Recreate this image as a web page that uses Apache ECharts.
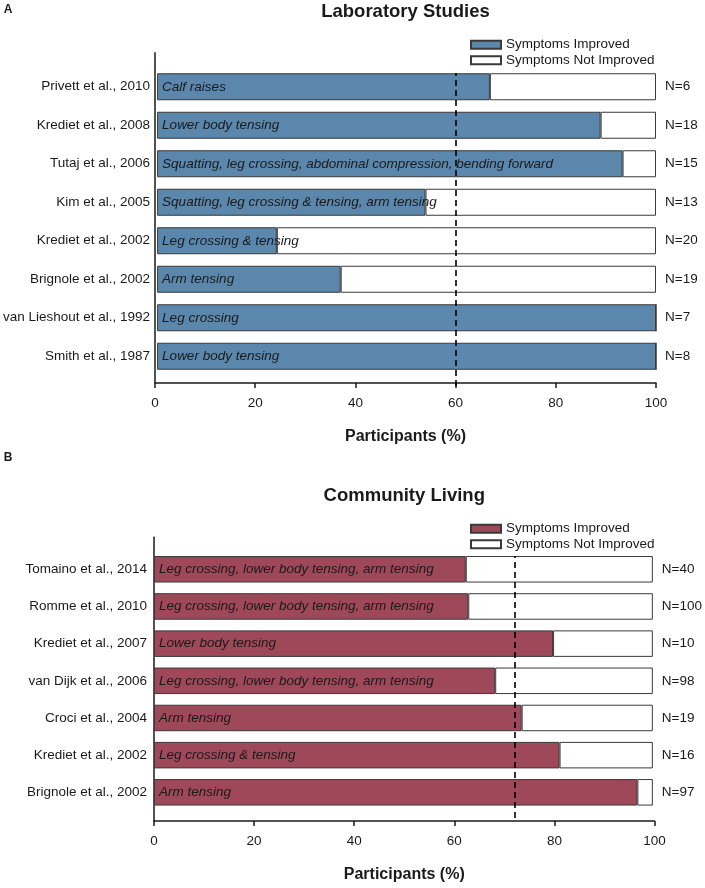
<!DOCTYPE html>
<html>
<head>
<meta charset="utf-8">
<script src="https://cdn.jsdelivr.net/npm/echarts@6/dist/echarts.min.js"></script>
<style>
  html, body { margin: 0; padding: 0; background: #ffffff; }
  #a { position: absolute; left: 0; top: 0; width: 705px; height: 450px; }
  #b { position: absolute; left: 0; top: 450px; width: 705px; height: 438px; }
</style>
</head>
<body>
<div id="a"></div>
<div id="b"></div>
<script>
// ---------- Data ----------
const labStudies = ['Privett et al., 2010', 'Krediet et al., 2008', 'Tutaj et al., 2006', 'Kim et al., 2005',
  'Krediet et al., 2002', 'Brignole et al., 2002', 'van Lieshout et al., 1992', 'Smith et al., 1987'];
const labImproved = [66.7, 88.9, 93.3, 53.8, 24, 36.8, 100, 100];
const labManoeuvres = ['Calf raises', 'Lower body tensing', 'Squatting, leg crossing, abdominal compression, bending forward',
  'Squatting, leg crossing & tensing, arm tensing', 'Leg crossing & tensing', 'Arm tensing', 'Leg crossing', 'Lower body tensing'];
const labN = ['N=6', 'N=18', 'N=15', 'N=13', 'N=20', 'N=19', 'N=7', 'N=8'];
const labThreshold = 60;

const comStudies = ['Tomaino et al., 2014', 'Romme et al., 2010', 'Krediet et al., 2007', 'van Dijk et al., 2006',
  'Croci et al., 2004', 'Krediet et al., 2002', 'Brignole et al., 2002'];
const comImproved = [62.5, 63, 80, 68.4, 73.7, 81.3, 96.9];
const comManoeuvres = ['Leg crossing, lower body tensing, arm tensing', 'Leg crossing, lower body tensing, arm tensing',
  'Lower body tensing', 'Leg crossing, lower body tensing, arm tensing', 'Arm tensing', 'Leg crossing & tensing', 'Arm tensing'];
const comN = ['N=40', 'N=100', 'N=10', 'N=98', 'N=19', 'N=16', 'N=97'];
const comThreshold = 72;

const xTicks = { min: 0, max: 100, interval: 20 };
const seriesNames = ['Symptoms Improved', 'Symptoms Not Improved'];
const axisName = 'Participants (%)';

// ---------- Builder ----------
const FONT = 'Liberation Sans, Arial, sans-serif';
const INK = '#1a1a1a';
const BORDER = '#3a3a3a';

function buildOption(cfg) {
  const notImproved = cfg.improved.map(v => +(100 - v).toFixed(2));
  return {
    animation: false,
    textStyle: { fontFamily: FONT },
    graphic: [
      { type: 'text', x: 8, y: cfg.letterY, style: { text: cfg.letter, font: 'bold 12px ' + FONT, fill: INK, textAlign: 'center', textVerticalAlign: 'middle' } },
      { type: 'text', x: (cfg.left + cfg.right) / 2, y: cfg.titleY, style: { text: cfg.title, font: 'bold 18.5px ' + FONT, fill: INK, textAlign: 'center', textVerticalAlign: 'middle' } }
    ],
    legend: {
      orient: 'vertical', left: 470, top: cfg.legendTop, padding: 0,
      itemWidth: 30, itemHeight: 8, itemGap: 0,
      icon: 'rect',
      textStyle: { fontSize: 13.5, color: INK, fontFamily: FONT, lineHeight: 15.5 },
      data: seriesNames,
      selectedMode: false
    },
    grid: [
      { left: cfg.left, width: cfg.right - cfg.left, top: cfg.barTop, height: cfg.barHeight },
      { left: cfg.left, width: cfg.right - cfg.left, top: cfg.frameTop, height: cfg.frameBottom - cfg.frameTop },
      { left: cfg.left, width: cfg.right - cfg.left, top: cfg.refTop, height: cfg.refBottom - cfg.refTop }
    ],
    xAxis: [
      { gridIndex: 0, type: 'value', min: xTicks.min, max: xTicks.max, show: false },
      {
        gridIndex: 1, type: 'value', min: xTicks.min, max: xTicks.max, interval: xTicks.interval,
        axisLine: { show: true, lineStyle: { color: INK, width: 1.5 } },
        axisTick: { show: true, length: 5, lineStyle: { color: INK, width: 1.5 } },
        axisLabel: { fontSize: 13.5, color: INK, margin: 13, fontFamily: FONT },
        splitLine: { show: false },
        name: axisName, nameLocation: 'middle', nameGap: 46,
        nameTextStyle: { fontSize: 16, fontWeight: 'bold', color: INK, fontFamily: FONT }
      },
      { gridIndex: 2, type: 'value', min: xTicks.min, max: xTicks.max, show: false }
    ],
    yAxis: [
      {
        gridIndex: 0, type: 'category', inverse: true, data: cfg.studies,
        axisLine: { show: false }, axisTick: { show: false },
        axisLabel: { fontSize: 13.5, color: INK, margin: 7, fontFamily: FONT }
      },
      {
        gridIndex: 0, type: 'category', inverse: true, position: 'right', data: cfg.n,
        axisLine: { show: false }, axisTick: { show: false },
        axisLabel: { fontSize: 13.5, color: INK, margin: 9, align: 'left', fontFamily: FONT }
      },
      {
        gridIndex: 1, type: 'value', min: 0, max: 1,
        axisLine: { show: true, lineStyle: { color: INK, width: 1.5 } },
        axisTick: { show: false }, axisLabel: { show: false }, splitLine: { show: false }
      },
      { gridIndex: 2, type: 'value', min: 0, max: 1, show: false }
    ],
    series: [
      {
        name: seriesNames[0], type: 'bar', stack: 'p', xAxisIndex: 0, yAxisIndex: 0,
        data: cfg.improved, barWidth: cfg.barW, z: 3,
        itemStyle: { color: cfg.color, borderColor: BORDER, borderWidth: 1 },
        label: {
          show: true, position: 'insideLeft', distance: 5,
          formatter: p => cfg.manoeuvres[p.dataIndex],
          fontStyle: 'italic', fontSize: 13.5, color: INK, fontFamily: FONT
        }
      },
      {
        name: seriesNames[1], type: 'bar', stack: 'p', xAxisIndex: 0, yAxisIndex: 0,
        data: notImproved, barWidth: cfg.barW, z: 2,
        itemStyle: { color: '#ffffff', borderColor: BORDER, borderWidth: 1 }
      },
      {
        name: 'threshold', type: 'line', xAxisIndex: 2, yAxisIndex: 3,
        data: [[cfg.threshold, 0]], showSymbol: false, symbol: 'none', silent: true, z: 5,
        lineStyle: { opacity: 0 },
        markLine: {
          silent: true, symbol: 'none', animation: false,
          label: { show: false },
          lineStyle: { color: '#000000', width: 1.6, type: [6, 4] },
          data: [{ xAxis: cfg.threshold }]
        }
      }
    ]
  };
}

const chartA = echarts.init(document.getElementById('a'), null, { renderer: 'canvas' });
chartA.setOption(buildOption({
  letter: 'A', letterY: 10, title: 'Laboratory Studies', titleY: 12,
  legendTop: 37,
  left: 155, right: 656,
  barTop: 67.5, barHeight: 308, barW: 27,
  frameTop: 52.7, frameBottom: 390.5,
  refTop: 73, refBottom: 386,
  studies: labStudies, improved: labImproved, manoeuvres: labManoeuvres, n: labN,
  threshold: labThreshold, color: '#5b87ac'
}));

const chartB = echarts.init(document.getElementById('b'), null, { renderer: 'canvas' });
chartB.setOption(buildOption({
  letter: 'B', letterY: 8, title: 'Community Living', titleY: 46,
  legendTop: 71,
  left: 154, right: 654.5,
  barTop: 100.7, barHeight: 260.2, barW: 26.5,
  frameTop: 87.3, frameBottom: 373.3,
  refTop: 106, refBottom: 368,
  studies: comStudies, improved: comImproved, manoeuvres: comManoeuvres, n: comN,
  threshold: comThreshold, color: '#9e4859'
}));
</script>
</body>
</html>
